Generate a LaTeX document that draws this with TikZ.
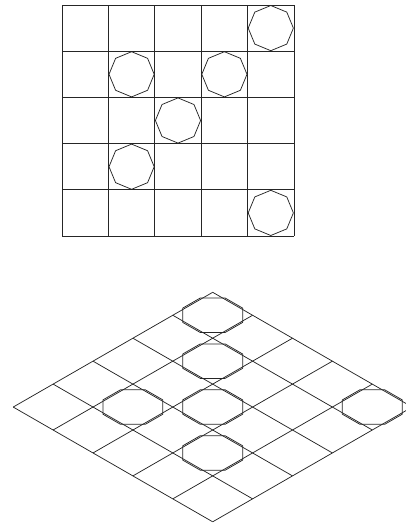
\documentclass[tikz,border=0pt]{standalone}
\begin{document}
\begin{tikzpicture}[x=1pt,y=-1pt]
\tikzset{
  gridline/.style={draw=black!85, line width=0.75pt},
  octa/.style={draw=black!85, line width=0.75pt, line join=round}
}
\useasboundingbox (0,0) rectangle (405,523);
% ---- top view: 5x5 grid ----
\foreach \k in {0,...,5} {
  \draw[gridline] ({62+\k*46.4},5) -- ({62+\k*46.4},236);
  \draw[gridline] (62,{5+\k*46.2}) -- (294,{5+\k*46.2});
}
\foreach \c/\r in {4/0,1/1,3/1,2/2,1/3,4/4} {
  \draw[octa, shift={({62+(\c+0.5)*46.4},{5+(\r+0.5)*46.2})}]
    (0:22.6) \foreach \a in {45,90,...,315} { -- (\a:22.6) } -- cycle;
}
% ---- isometric view ----
\begin{scope}[shift={(212.7,292.3)}, x={(39.9pt,-22.95pt)}, y={(-39.9pt,-22.95pt)}]
  \foreach \k in {0,...,5} {
    \draw[gridline] (\k,0) -- (\k,5);
    \draw[gridline] (0,\k) -- (5,\k);
  }
  \foreach \i/\j in {0/0,1/1,2/2,3/3,1/3,4/0} {
    \draw[octa, shift={(\i+0.5,\j+0.5)}]
      (22.5:0.575) \foreach \a in {67.5,112.5,...,337.5} { -- (\a:0.575) } -- cycle;
  }
\end{scope}
\end{tikzpicture}
\end{document}
